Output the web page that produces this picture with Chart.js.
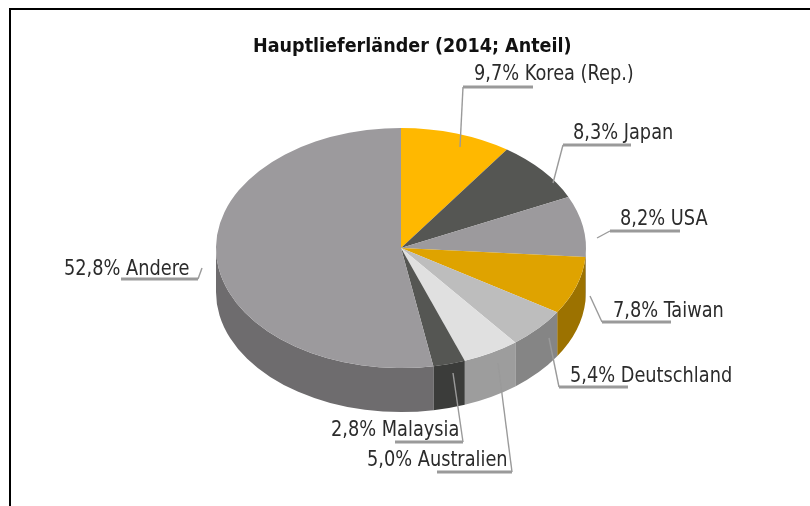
<!DOCTYPE html>
<html lang="de">
<head>
<meta charset="utf-8">
<title>Hauptlieferländer</title>
<script src="https://cdn.jsdelivr.net/npm/chart.js@4/dist/chart.umd.min.js"></script>
<style>
    html, body { margin: 0; padding: 0; background: #fff; }
    #wrap { position: relative; width: 810px; height: 506px; overflow: hidden; }
    #frame { position: absolute; left: 9px; top: 8px; width: 810px; height: 510px; border-left: 2px solid #000; border-top: 2px solid #000; box-sizing: border-box; }
</style>
</head>
<body>
<div id="wrap">
    <canvas id="pie" width="810" height="506"></canvas>
    <div id="frame"></div>
</div>
<script>
const categories = ["Korea (Rep.)", "Japan", "USA", "Taiwan", "Deutschland", "Australien", "Malaysia", "Andere"];
const shares = [9.7, 8.3, 8.2, 7.8, 5.4, 5.0, 2.8, 52.8];
const topColors = ["#ffb800", "#555653", "#9c9a9d", "#dfa300", "#bdbdbd", "#e0e0e0", "#555653", "#9c9a9d"];
const sideColors = ["#b38100", "#3b3c3a", "#6e6c6e", "#9c7200", "#858585", "#9d9d9d", "#3b3c3a", "#6e6c6e"];

const chartTitle = "Hauptlieferländer (2014; Anteil)";

/* --------------------------
   LABEL PLACEMENT
   text x/baseline + leader line, same order as categories
-------------------------- */
const labelAnchors = [
    { x: 474, y: 80, line: [[533, 87], [463, 87], [460, 147]] },
    { x: 573, y: 139, line: [[631, 145], [563, 145], [553, 183]] },
    { x: 620, y: 225, line: [[680, 231], [610, 231], [597, 238]] },
    { x: 613, y: 317, line: [[671, 322], [602, 322], [590, 296]] },
    { x: 570, y: 382, line: [[628, 387], [559, 387], [549, 338]] },
    { x: 367, y: 466, line: [[437, 472], [512, 472], [498, 363]] },
    { x: 331, y: 436, line: [[395, 442], [463, 442], [453, 373]] },
    { x: 64, y: 275, line: [[121, 279], [198, 279], [202, 268]] }
];

const squash = 0.649;   // top ellipse height / width
const depth = 44;       // wall height in px

function formatShare(v) {
    return v.toFixed(1).replace(".", ",") + "%";
}

// text in the original is tall and narrow, squeeze it a bit
function squeezedText(ctx, text, x, y, factor) {
    ctx.fillText(text, x, y, ctx.measureText(text).width * factor);
}

/* --------------------------
   3D PIE PLUGIN
-------------------------- */
const pie3d = {
    id: "pie3d",

    beforeDatasetsDraw(chart) {
        const ctx = chart.ctx;
        const arcs = chart.getDatasetMeta(0).data;
        const cx = arcs[0].x, cy = arcs[0].y;

        // walls, only the part of each slice facing the viewer
        arcs.forEach((arc, i) => {
            const start = Math.max(arc.startAngle, 0);
            const end = Math.min(arc.endAngle, Math.PI);
            if (end <= start) return;

            const rx = arc.outerRadius, ry = rx * squash;
            ctx.beginPath();
            ctx.ellipse(cx, cy, rx, ry, 0, start, end);
            ctx.ellipse(cx, cy + depth, rx, ry, 0, end, start, true);
            ctx.closePath();
            ctx.fillStyle = sideColors[i];
            ctx.fill();
        });

        // flatten the real arcs into the top ellipse
        ctx.save();
        ctx.translate(cx, cy);
        ctx.scale(1, squash);
        ctx.translate(-cx, -cy);
    },

    afterDatasetsDraw(chart) {
        const ctx = chart.ctx;
        ctx.restore();

        ctx.strokeStyle = "#9a9a9a";
        ctx.lineJoin = "miter";
        labelAnchors.forEach(a => {
            // thin leader
            ctx.beginPath();
            ctx.moveTo(a.line[1][0], a.line[1][1]);
            ctx.lineTo(a.line[2][0], a.line[2][1]);
            ctx.lineWidth = 1.4;
            ctx.stroke();
            // thick underline
            ctx.beginPath();
            ctx.moveTo(a.line[0][0], a.line[0][1]);
            ctx.lineTo(a.line[1][0], a.line[1][1]);
            ctx.lineWidth = 2.8;
            ctx.stroke();
        });

        ctx.fillStyle = "#2b2b2b";
        ctx.font = '21px "DejaVu Sans Condensed", "DejaVu Sans"';
        ctx.textAlign = "left";
        ctx.textBaseline = "alphabetic";
        categories.forEach((name, i) => {
            squeezedText(ctx, formatShare(shares[i]) + " " + name, labelAnchors[i].x, labelAnchors[i].y, 0.94);
        });

        ctx.fillStyle = "#111";
        ctx.font = 'bold 20px "DejaVu Sans Condensed", "DejaVu Sans"';
        squeezedText(ctx, chartTitle, 253, 52, 0.977);
    }
};

new Chart(document.getElementById("pie"), {
    type: "pie",
    data: {
        labels: categories,
        datasets: [{
            data: shares,
            backgroundColor: topColors,
            borderWidth: 0
        }]
    },
    options: {
        responsive: false,
        animation: false,
        radius: 185,
        layout: { padding: { left: 0, top: 0, right: 8, bottom: 10 } },
        plugins: {
            legend: { display: false },
            tooltip: { enabled: false }
        }
    },
    plugins: [pie3d]
});
</script>
</body>
</html>
